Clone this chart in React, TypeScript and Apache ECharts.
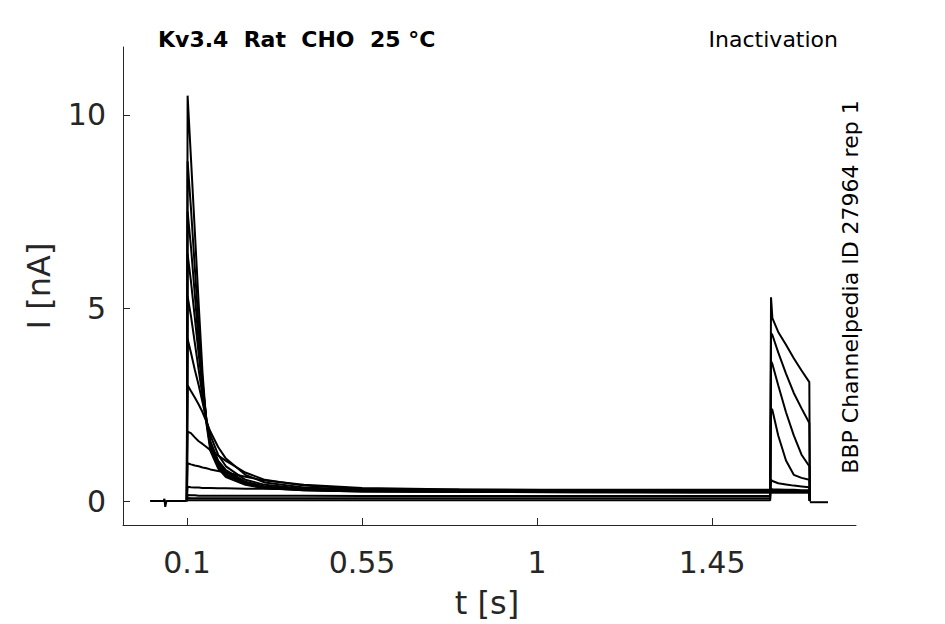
import React, { useEffect, useRef } from "react";
import * as echarts from "echarts";

// Holding segment before the prepulse (shared by all sweeps)
const HOLD_T = [0.005, 0.04, 0.042, 0.044, 0.047, 0.0995];
const HOLD_I = [0, 0, 0.06, -0.15, 0, 0];

// Time points of each sweep (prepulse, test pulse, end of test)
const SWEEP_T = [
  0.0995, 0.1015, 0.11, 0.12, 0.13, 0.14, 0.15, 0.16, 0.18, 0.2, 0.25, 0.3, 0.4,
  0.55, 0.8, 1.1, 1.4, 1.5995, 1.6015, 1.605, 1.62, 1.64, 1.66, 1.68, 1.7, 1.7015,
];

// Current values [nA] per sweep at SWEEP_T
const SWEEP_1 = [0, 0.02, 0.02, 0.02, 0.02, 0.02, 0.02, 0.02, 0.02, 0.02, 0.02, 0.02, 0.02, 0.02, 0.02, 0.02, 0.02, 0.02, 5.28, 4.74, 4.38, 4.05, 3.7, 3.38, 3.08, 0];
const SWEEP_2 = [0, 0.08, 0.07, 0.07, 0.07, 0.07, 0.07, 0.07, 0.07, 0.07, 0.07, 0.07, 0.07, 0.07, 0.07, 0.07, 0.07, 0.07, 4.35, 4.3, 3.85, 3.3, 2.8, 2.4, 2.02, 0];
const SWEEP_3 = [0, 0.16, 0.15, 0.15, 0.14, 0.14, 0.14, 0.14, 0.14, 0.14, 0.14, 0.14, 0.14, 0.13, 0.13, 0.13, 0.13, 0.13, 3.62, 3.55, 3.0, 2.3, 1.7, 1.2, 0.9, 0];
const SWEEP_4 = [0, 0.37, 0.36, 0.35, 0.35, 0.34, 0.34, 0.34, 0.33, 0.33, 0.32, 0.32, 0.31, 0.3, 0.3, 0.29, 0.29, 0.29, 2.4, 2.36, 1.7, 1.05, 0.68, 0.6, 0.55, 0];
const SWEEP_5 = [0, 0.98, 0.95, 0.92, 0.9, 0.87, 0.85, 0.82, 0.78, 0.74, 0.63, 0.53, 0.42, 0.34, 0.3, 0.28, 0.28, 0.28, 0.55, 0.52, 0.46, 0.43, 0.4, 0.38, 0.36, 0];
const SWEEP_6 = [0, 1.8, 1.76, 1.65, 1.55, 1.48, 1.4, 1.32, 1.18, 1.04, 0.74, 0.55, 0.4, 0.32, 0.28, 0.27, 0.27, 0.27, 0.32, 0.3, 0.3, 0.29, 0.29, 0.28, 0.28, 0];
const SWEEP_7 = [0, 3.0, 2.85, 2.68, 2.5, 2.3, 2.05, 1.8, 1.4, 1.1, 0.68, 0.48, 0.35, 0.3, 0.27, 0.26, 0.26, 0.26, 0.28, 0.27, 0.27, 0.26, 0.26, 0.26, 0.26, 0];
const SWEEP_8 = [0, 4.2, 3.85, 3.4, 3.0, 2.55, 2.1, 1.7, 1.2, 0.9, 0.55, 0.42, 0.32, 0.28, 0.26, 0.25, 0.25, 0.25, 0.26, 0.26, 0.25, 0.25, 0.25, 0.25, 0.25, 0];
const SWEEP_9 = [0, 5.3, 4.8, 4.1, 3.4, 2.7, 2.05, 1.55, 1.05, 0.8, 0.5, 0.38, 0.3, 0.27, 0.25, 0.25, 0.24, 0.24, 0.25, 0.25, 0.24, 0.24, 0.24, 0.24, 0.24, 0];
const SWEEP_10 = [0, 6.4, 5.7, 4.75, 3.8, 2.9, 2.1, 1.5, 1.0, 0.75, 0.48, 0.36, 0.29, 0.26, 0.25, 0.24, 0.24, 0.24, 0.24, 0.24, 0.24, 0.24, 0.24, 0.24, 0.24, 0];
const SWEEP_11 = [0, 7.5, 6.6, 5.35, 4.1, 3.0, 2.1, 1.45, 0.95, 0.7, 0.46, 0.35, 0.29, 0.26, 0.25, 0.24, 0.23, 0.23, 0.23, 0.23, 0.23, 0.23, 0.23, 0.23, 0.23, 0];
const SWEEP_12 = [0, 8.8, 7.6, 6.05, 4.5, 3.1, 2.05, 1.4, 0.9, 0.66, 0.44, 0.34, 0.28, 0.25, 0.24, 0.23, 0.23, 0.23, 0.23, 0.23, 0.23, 0.23, 0.23, 0.23, 0.23, 0];
const SWEEP_13 = [0, 10.5, 8.9, 7.0, 5.1, 3.3, 2.0, 1.3, 0.85, 0.62, 0.42, 0.33, 0.28, 0.25, 0.24, 0.23, 0.22, 0.22, 0.22, 0.22, 0.22, 0.22, 0.22, 0.22, 0.22, 0];

const SWEEPS = [SWEEP_1, SWEEP_2, SWEEP_3, SWEEP_4, SWEEP_5, SWEEP_6, SWEEP_7, SWEEP_8, SWEEP_9, SWEEP_10, SWEEP_11, SWEEP_12, SWEEP_13];

// Tail after test pulse
const TAIL_T = [1.7015, 1.748];
const TAIL_I = [-0.03, -0.03];

// Axis ticks
const X_TICKS = [0.1, 0.55, 1, 1.45];
const Y_TICKS = [0, 5, 10];

const AX = "#262626";
const FONT = '"DejaVu Sans", sans-serif';

export default function App() {
  const ref = useRef<HTMLDivElement>(null);
  useEffect(() => {
    document.body.style.margin = "0";
    const chart = echarts.init(ref.current!, null, { renderer: "svg" });
    const lineStyle = { color: "#000", width: 2 };
    const series: any[] = [];
    series.push({
      type: "line",
      data: HOLD_T.map((t, i) => [t, HOLD_I[i]]),
      symbol: "none",
      lineStyle,
      silent: true,
    });
    SWEEPS.forEach((s) => {
      series.push({
        type: "line",
        data: SWEEP_T.map((t, i) => [t, s[i]]),
        symbol: "none",
        lineStyle,
        silent: true,
      });
    });
    series.push({
      type: "line",
      data: TAIL_T.map((t, i) => [t, TAIL_I[i]]),
      symbol: "none",
      lineStyle,
      silent: true,
    });
    chart.setOption({
      animation: false,
      backgroundColor: "#fff",
      grid: { left: 123, top: 47, right: 89, bottom: 99 },
      xAxis: {
        type: "value",
        min: -0.0646,
        max: 1.82,
        axisLine: { show: true, onZero: false, lineStyle: { color: AX, width: 1 } },
        axisTick: { show: true, inside: true, length: 7, customValues: X_TICKS, lineStyle: { color: AX } },
        axisLabel: {
          customValues: X_TICKS,
          margin: 22,
          color: AX,
          fontSize: 30,
          fontFamily: FONT,
          formatter: (v: number) => String(v),
        },
        splitLine: { show: false },
      },
      yAxis: {
        type: "value",
        min: -0.62,
        max: 11.76,
        axisLine: { show: true, onZero: false, lineStyle: { color: AX, width: 1 } },
        axisTick: { show: true, inside: true, length: 7, customValues: Y_TICKS, lineStyle: { color: AX } },
        axisLabel: {
          customValues: Y_TICKS,
          margin: 17,
          color: AX,
          fontSize: 30,
          fontFamily: FONT,
          formatter: (v: number) => String(v),
        },
        splitLine: { show: false },
      },
      graphic: [
        {
          type: "text",
          x: 158,
          y: 39,
          style: { text: "Kv3.4  Rat  CHO  25 °C", font: `bold 22px ${FONT}`, fill: "#000", textAlign: "left", textVerticalAlign: "middle" },
        },
        {
          type: "text",
          x: 838,
          y: 39,
          style: { text: "Inactivation", font: `22px ${FONT}`, fill: "#000", textAlign: "right", textVerticalAlign: "middle" },
        },
        {
          type: "text",
          x: 850,
          y: 287,
          rotation: Math.PI / 2,
          style: { text: "BBP Channelpedia ID 27964 rep 1", font: `22px ${FONT}`, fill: "#000", textAlign: "center", textVerticalAlign: "middle" },
        },
        {
          type: "text",
          x: 39,
          y: 286,
          rotation: Math.PI / 2,
          style: { text: "I [nA]", font: `32px ${FONT}`, fill: AX, textAlign: "center", textVerticalAlign: "middle" },
        },
        {
          type: "text",
          x: 487,
          y: 603,
          style: { text: "t [s]", font: `32px ${FONT}`, fill: AX, textAlign: "center", textVerticalAlign: "middle" },
        },
      ],
      series,
    });
    return () => chart.dispose();
  }, []);
  return <div ref={ref} style={{ position: "absolute", left: 0, top: 0, width: 945, height: 624 }} />;
}
